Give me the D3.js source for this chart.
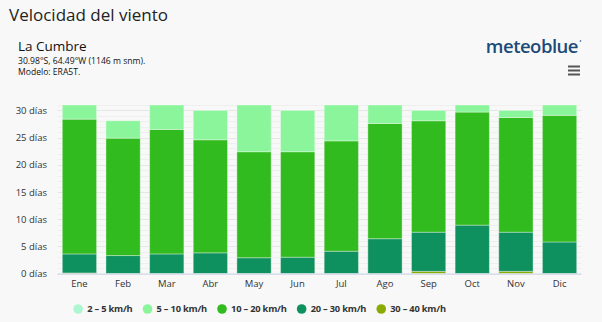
<!DOCTYPE html>
<html><head><meta charset="utf-8">
<script src="https://cdn.jsdelivr.net/npm/d3@7"></script>
<style>
html,body{margin:0;padding:0;background:#f8f8f8;}
svg{display:block;font-family:"Open Sans","Noto Sans",sans-serif;}
</style></head>
<body><svg id="c" width="602" height="322"></svg>
<script>
const months = ["Ene","Feb","Mar","Abr","May","Jun","Jul","Ago","Sep","Oct","Nov","Dic"];
const seriesNames = ["2 – 5 km/h","5 – 10 km/h","10 – 20 km/h","20 – 30 km/h","30 – 40 km/h"];
const seriesColors = ["#aef5d2","#8bf59b","#32bb1e","#0e915e","#8aab00"];
const v2_5   = [0,0,0,0,0,0,0,0,0,0,0,0];
const v5_10  = [2.6,3.2,4.5,5.4,8.6,7.6,6.6,3.4,1.9,1.3,1.3,1.9];
const v10_20 = [24.8,21.6,22.9,20.8,19.5,19.4,20.3,21.2,20.5,20.8,21.1,23.3];
const v20_30 = [3.5,3.3,3.6,3.8,2.9,3.0,4.1,6.4,7.2,8.9,7.2,5.8];
const v30_40 = [0.1,0,0,0,0,0,0,0,0.4,0,0.4,0];
const yTicks = [0,5,10,15,20,25,30];
const yUnit = " días";

const svg = d3.select("#c");
// Header
svg.append("text").attr("x",9).attr("y",21).attr("font-size",17).attr("fill","#222").text("Velocidad del viento");
svg.append("text").attr("x",18).attr("y",50.5).attr("font-size",13.5).attr("fill","#111").text("La Cumbre");
svg.append("text").attr("x",18).attr("y",63.5).attr("font-size",8.6).attr("fill","#111").text("30.98°S, 64.49°W (1146 m snm).");
svg.append("text").attr("x",18).attr("y",75).attr("font-size",8.6).attr("fill","#111").text("Modelo: ERA5T.");
svg.append("text").attr("x",578).attr("y",53).attr("text-anchor","end").attr("font-size",18.5).attr("font-weight",600)
  .attr("fill","#1d4b78").attr("letter-spacing",-0.5).text("meteoblue");
svg.append("circle").attr("cx",580.5).attr("cy",41).attr("r",0.8).attr("fill","#1d4b78");
[66.5,70.5,74.5].forEach(y=>svg.append("rect").attr("x",568).attr("y",y-1).attr("width",12).attr("height",2).attr("fill","#555"));

// Scales
const x = d3.scaleBand().domain(months).range([57.6,581.4]).paddingInner(0.215).paddingOuter(0.108);
const y = d3.scaleLinear().domain([0,31]).range([273.5,105]);

// grid (minor every 1 day)
const g = svg.append("g");
g.selectAll("line.minor").data(d3.range(0,32)).join("line")
  .attr("x1",57.6).attr("x2",581.4).attr("y1",d=>Math.round(y(d))+0.5).attr("y2",d=>Math.round(y(d))+0.5)
  .attr("stroke",d=>d%5===0?"#e6e6e6":"#efefef").attr("stroke-width",1);

// stack
const keys = ["s30_40","s20_30","s10_20","s5_10","s2_5"];
const rows = months.map((m,i)=>({m, s30_40:v30_40[i], s20_30:v20_30[i], s10_20:v10_20[i], s5_10:v5_10[i], s2_5:v2_5[i]}));
const colorOf = {s2_5:seriesColors[0],s5_10:seriesColors[1],s10_20:seriesColors[2],s20_30:seriesColors[3],s30_40:seriesColors[4]};
const stack = d3.stack().keys(keys)(rows);
svg.append("g").selectAll("g").data(stack).join("g").attr("fill",d=>colorOf[d.key])
  .selectAll("rect").data(d=>d.filter(p=>p[1]-p[0]>0)).join("rect")
  .attr("x",d=>x(d.data.m)).attr("width",x.bandwidth())
  .attr("y",d=>y(d[1])).attr("height",d=>y(d[0])-y(d[1]))
  .attr("stroke","#ffffff").attr("stroke-opacity",0.35).attr("stroke-width",1);

// axis line
svg.append("line").attr("x1",57.6).attr("x2",581.4).attr("y1",274).attr("y2",274).attr("stroke","#ccd6eb");

// y axis
const ya = svg.append("g").attr("transform","translate(47,0)")
  .call(d3.axisLeft(y).tickValues(yTicks).tickSize(0).tickPadding(0).tickFormat(d=>d+yUnit));
ya.select(".domain").remove();
ya.selectAll("text").attr("font-size",9.5).attr("fill","#333").attr("font-family","'Open Sans',sans-serif");

// x axis
const xa = svg.append("g").attr("transform","translate(0,274)")
  .call(d3.axisBottom(x).tickSize(0).tickPadding(6));
xa.select(".domain").remove();
xa.selectAll("text").attr("font-size",9.5).attr("fill","#333").attr("font-family","'Open Sans',sans-serif");

// legend
const lg = svg.append("g").attr("transform","translate(0,309)");
let lx = 0;
seriesNames.forEach((n,i)=>{
  lg.append("circle").attr("cx",lx).attr("cy",0).attr("r",4.8).attr("fill",seriesColors[i]);
  const t = lg.append("text").attr("x",lx+9).attr("y",3.3).attr("font-size",9.3).attr("font-weight","bold")
    .attr("letter-spacing",-0.2).attr("fill","#333").text(n);
  const w = t.node().getComputedTextLength();
  lx = lx + 9 + w + (i<seriesNames.length-1?15:0);
});
const lw = lx + 5;
lg.attr("transform",`translate(${259.5 - lw/2 + 5},309)`);
</script></body></html>
